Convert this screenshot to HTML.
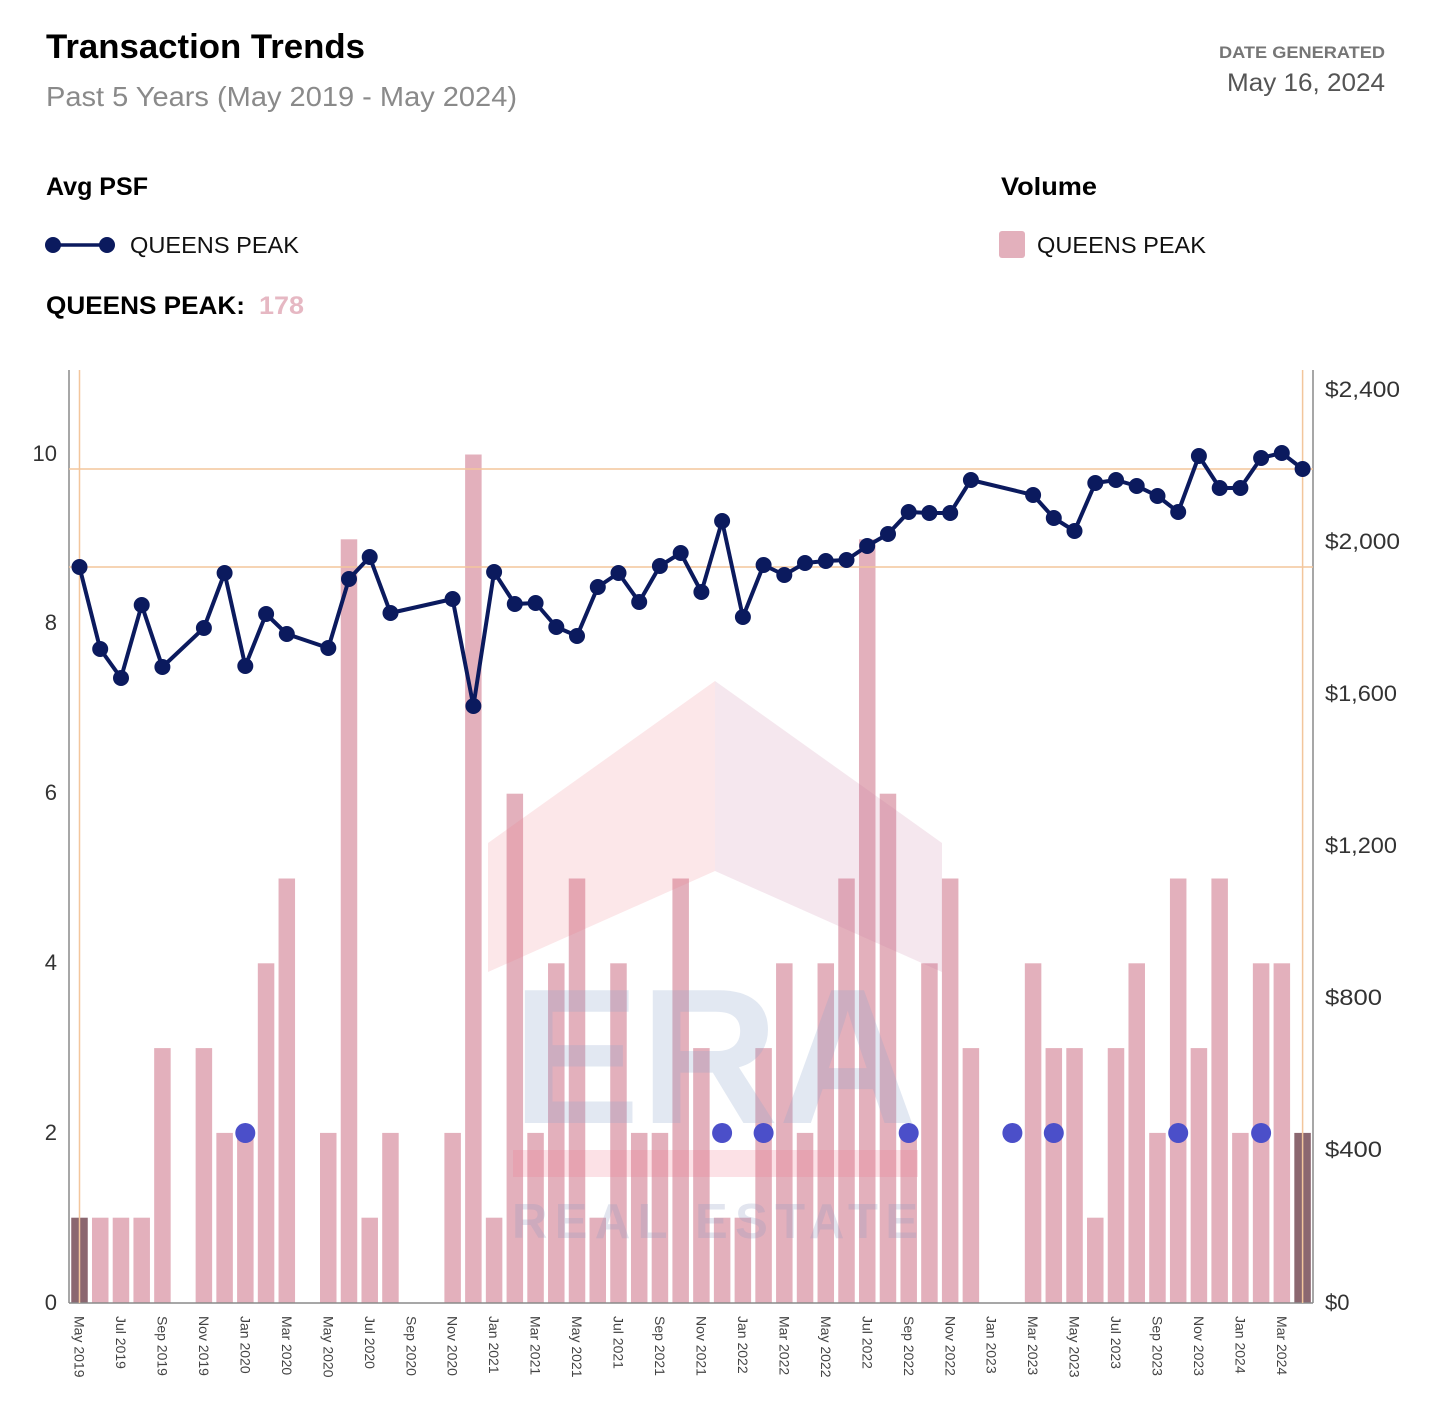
<!DOCTYPE html>
<html>
<head>
<meta charset="utf-8">
<style>
html,body{margin:0;padding:0;background:#fff;}
svg{display:block;}
text{font-family:"Liberation Sans",Arial,sans-serif;}
</style>
</head>
<body>
<svg width="1431" height="1420" viewBox="0 0 1431 1420" xmlns="http://www.w3.org/2000/svg">
<rect width="1431" height="1420" fill="#fff"/>

<!-- Header -->
<text x="46" y="58" font-size="34" font-weight="bold" fill="#000" textLength="319" lengthAdjust="spacingAndGlyphs">Transaction Trends</text>
<text x="46" y="106" font-size="28" fill="#8a8a8a" textLength="471" lengthAdjust="spacingAndGlyphs">Past 5 Years (May 2019 - May 2024)</text>
<text x="1385" y="58" font-size="16.5" font-weight="bold" fill="#767676" text-anchor="end" textLength="166" lengthAdjust="spacingAndGlyphs">DATE GENERATED</text>
<text x="1385" y="91" font-size="25" fill="#555" text-anchor="end" textLength="158" lengthAdjust="spacingAndGlyphs">May 16, 2024</text>

<!-- Legends -->
<text x="46" y="195" font-size="25" font-weight="bold" fill="#000" textLength="102" lengthAdjust="spacingAndGlyphs">Avg PSF</text>
<line x1="53" y1="245" x2="107" y2="245" stroke="#0b1a5e" stroke-width="3.5"/>
<circle cx="53" cy="245" r="8" fill="#0b1a5e"/>
<circle cx="107" cy="245" r="8" fill="#0b1a5e"/>
<text x="130" y="253" font-size="23" fill="#111" textLength="169" lengthAdjust="spacingAndGlyphs">QUEENS PEAK</text>

<text x="1001" y="195" font-size="25" font-weight="bold" fill="#000" textLength="96" lengthAdjust="spacingAndGlyphs">Volume</text>
<rect x="999" y="231" width="26" height="27" rx="3" fill="#e3b0bc"/>
<text x="1037" y="253" font-size="23" fill="#111" textLength="169" lengthAdjust="spacingAndGlyphs">QUEENS PEAK</text>

<text x="46" y="314" font-size="25" font-weight="bold" fill="#000" textLength="199" lengthAdjust="spacingAndGlyphs">QUEENS PEAK:</text>
<text x="259" y="314" font-size="25" font-weight="bold" fill="#e6b8c3" textLength="45" lengthAdjust="spacingAndGlyphs">178</text>

<!-- Bars -->
<g fill="#e3b0bc">
<rect x="71.25" y="1217.7" width="16.5" height="84.8" fill="#8b6770"/>
<rect x="91.98" y="1217.7" width="16.5" height="84.8"/>
<rect x="112.71" y="1217.7" width="16.5" height="84.8"/>
<rect x="133.44" y="1217.7" width="16.5" height="84.8"/>
<rect x="154.17" y="1048.1" width="16.5" height="254.4"/>
<rect x="195.63" y="1048.1" width="16.5" height="254.4"/>
<rect x="216.36" y="1132.9" width="16.5" height="169.6"/>
<rect x="237.09" y="1132.9" width="16.5" height="169.6"/>
<rect x="257.82" y="963.3" width="16.5" height="339.2"/>
<rect x="278.55" y="878.5" width="16.5" height="424"/>
<rect x="320.01" y="1132.9" width="16.5" height="169.6"/>
<rect x="340.74" y="539.3" width="16.5" height="763.2"/>
<rect x="361.47" y="1217.7" width="16.5" height="84.8"/>
<rect x="382.2" y="1132.9" width="16.5" height="169.6"/>
<rect x="444.39" y="1132.9" width="16.5" height="169.6"/>
<rect x="465.12" y="454.5" width="16.5" height="848"/>
<rect x="485.85" y="1217.7" width="16.5" height="84.8"/>
<rect x="506.58" y="793.7" width="16.5" height="508.8"/>
<rect x="527.31" y="1132.9" width="16.5" height="169.6"/>
<rect x="548.04" y="963.3" width="16.5" height="339.2"/>
<rect x="568.77" y="878.5" width="16.5" height="424"/>
<rect x="589.5" y="1217.7" width="16.5" height="84.8"/>
<rect x="610.23" y="963.3" width="16.5" height="339.2"/>
<rect x="630.96" y="1132.9" width="16.5" height="169.6"/>
<rect x="651.69" y="1132.9" width="16.5" height="169.6"/>
<rect x="672.42" y="878.5" width="16.5" height="424"/>
<rect x="693.15" y="1048.1" width="16.5" height="254.4"/>
<rect x="713.88" y="1217.7" width="16.5" height="84.8"/>
<rect x="734.61" y="1217.7" width="16.5" height="84.8"/>
<rect x="755.34" y="1048.1" width="16.5" height="254.4"/>
<rect x="776.07" y="963.3" width="16.5" height="339.2"/>
<rect x="796.8" y="1132.9" width="16.5" height="169.6"/>
<rect x="817.53" y="963.3" width="16.5" height="339.2"/>
<rect x="838.26" y="878.5" width="16.5" height="424"/>
<rect x="858.99" y="539.3" width="16.5" height="763.2"/>
<rect x="879.72" y="793.7" width="16.5" height="508.8"/>
<rect x="900.45" y="1132.9" width="16.5" height="169.6"/>
<rect x="921.18" y="963.3" width="16.5" height="339.2"/>
<rect x="941.91" y="878.5" width="16.5" height="424"/>
<rect x="962.64" y="1048.1" width="16.5" height="254.4"/>
<rect x="1024.83" y="963.3" width="16.5" height="339.2"/>
<rect x="1045.56" y="1048.1" width="16.5" height="254.4"/>
<rect x="1066.29" y="1048.1" width="16.5" height="254.4"/>
<rect x="1087.02" y="1217.7" width="16.5" height="84.8"/>
<rect x="1107.75" y="1048.1" width="16.5" height="254.4"/>
<rect x="1128.48" y="963.3" width="16.5" height="339.2"/>
<rect x="1149.21" y="1132.9" width="16.5" height="169.6"/>
<rect x="1169.94" y="878.5" width="16.5" height="424"/>
<rect x="1190.67" y="1048.1" width="16.5" height="254.4"/>
<rect x="1211.4" y="878.5" width="16.5" height="424"/>
<rect x="1232.13" y="1132.9" width="16.5" height="169.6"/>
<rect x="1252.86" y="963.3" width="16.5" height="339.2"/>
<rect x="1273.59" y="963.3" width="16.5" height="339.2"/>
<rect x="1294.32" y="1132.9" width="16.5" height="169.6" fill="#8b6770"/>
</g>

<!-- Watermark -->
<polygon points="488,843 715,681 715,871 488,972" fill="rgba(240,120,135,0.18)"/>
<polygon points="715,681 942,843 942,972 715,871" fill="rgba(200,120,160,0.18)"/>
<text x="512" y="1123" font-size="193" font-weight="bold" fill="rgba(140,165,205,0.25)" textLength="405" lengthAdjust="spacingAndGlyphs">ERA</text>
<rect x="513" y="1150" width="405" height="27" fill="rgba(240,120,140,0.22)"/>
<text x="512" y="1238" font-size="49" font-weight="bold" fill="rgba(140,150,190,0.25)" textLength="406" lengthAdjust="spacing">REAL ESTATE</text>

<!-- Axes -->
<line x1="69" y1="370" x2="69" y2="1303" stroke="#8a8a8a" stroke-width="1.5"/>
<line x1="1313" y1="370" x2="1313" y2="1303" stroke="#8a8a8a" stroke-width="1.5"/>
<line x1="69" y1="1303" x2="1313" y2="1303" stroke="#8a8a8a" stroke-width="1.5"/>

<!-- Orange crosshair lines -->
<g stroke="#f3c69c" stroke-width="1.5">
<line x1="79.5" y1="370" x2="79.5" y2="1303"/>
<line x1="1302.6" y1="370" x2="1302.6" y2="1303"/>
<line x1="69" y1="469" x2="1313" y2="469"/>
<line x1="69" y1="567" x2="1313" y2="567"/>
</g>

<!-- Left axis labels -->
<g font-size="22" fill="#333" text-anchor="end">
<text x="57" y="461">10</text>
<text x="57" y="630">8</text>
<text x="57" y="800">6</text>
<text x="57" y="970">4</text>
<text x="57" y="1140">2</text>
<text x="57" y="1310">0</text>
</g>

<!-- Right axis labels -->
<g font-size="22" fill="#333">
<text x="1325" y="397" textLength="75" lengthAdjust="spacingAndGlyphs">$2,400</text>
<text x="1325" y="549" textLength="75" lengthAdjust="spacingAndGlyphs">$2,000</text>
<text x="1325" y="701" textLength="72" lengthAdjust="spacingAndGlyphs">$1,600</text>
<text x="1325" y="853" textLength="72" lengthAdjust="spacingAndGlyphs">$1,200</text>
<text x="1325" y="1005" textLength="57" lengthAdjust="spacingAndGlyphs">$800</text>
<text x="1325" y="1157" textLength="57" lengthAdjust="spacingAndGlyphs">$400</text>
<text x="1325" y="1310">$0</text>
</g>

<!-- X axis labels -->
<g font-size="14" fill="#444">
<text transform="translate(79.5,1316) rotate(90)" dy="0.35em">May 2019</text>
<text transform="translate(121,1316) rotate(90)" dy="0.35em">Jul 2019</text>
<text transform="translate(162.4,1316) rotate(90)" dy="0.35em">Sep 2019</text>
<text transform="translate(203.9,1316) rotate(90)" dy="0.35em">Nov 2019</text>
<text transform="translate(245.3,1316) rotate(90)" dy="0.35em">Jan 2020</text>
<text transform="translate(286.8,1316) rotate(90)" dy="0.35em">Mar 2020</text>
<text transform="translate(328.3,1316) rotate(90)" dy="0.35em">May 2020</text>
<text transform="translate(369.7,1316) rotate(90)" dy="0.35em">Jul 2020</text>
<text transform="translate(411.2,1316) rotate(90)" dy="0.35em">Sep 2020</text>
<text transform="translate(452.6,1316) rotate(90)" dy="0.35em">Nov 2020</text>
<text transform="translate(494.1,1316) rotate(90)" dy="0.35em">Jan 2021</text>
<text transform="translate(535.6,1316) rotate(90)" dy="0.35em">Mar 2021</text>
<text transform="translate(577,1316) rotate(90)" dy="0.35em">May 2021</text>
<text transform="translate(618.5,1316) rotate(90)" dy="0.35em">Jul 2021</text>
<text transform="translate(659.9,1316) rotate(90)" dy="0.35em">Sep 2021</text>
<text transform="translate(701.4,1316) rotate(90)" dy="0.35em">Nov 2021</text>
<text transform="translate(742.9,1316) rotate(90)" dy="0.35em">Jan 2022</text>
<text transform="translate(784.3,1316) rotate(90)" dy="0.35em">Mar 2022</text>
<text transform="translate(825.8,1316) rotate(90)" dy="0.35em">May 2022</text>
<text transform="translate(867.2,1316) rotate(90)" dy="0.35em">Jul 2022</text>
<text transform="translate(908.7,1316) rotate(90)" dy="0.35em">Sep 2022</text>
<text transform="translate(950.2,1316) rotate(90)" dy="0.35em">Nov 2022</text>
<text transform="translate(991.6,1316) rotate(90)" dy="0.35em">Jan 2023</text>
<text transform="translate(1033.1,1316) rotate(90)" dy="0.35em">Mar 2023</text>
<text transform="translate(1074.5,1316) rotate(90)" dy="0.35em">May 2023</text>
<text transform="translate(1116,1316) rotate(90)" dy="0.35em">Jul 2023</text>
<text transform="translate(1157.5,1316) rotate(90)" dy="0.35em">Sep 2023</text>
<text transform="translate(1198.9,1316) rotate(90)" dy="0.35em">Nov 2023</text>
<text transform="translate(1240.4,1316) rotate(90)" dy="0.35em">Jan 2024</text>
<text transform="translate(1281.8,1316) rotate(90)" dy="0.35em">Mar 2024</text>
</g>

<!-- Avg PSF line -->
<polyline fill="none" stroke="#0b1a5e" stroke-width="4" stroke-linejoin="round" points="79.5,567 100.2,649 121,678 141.7,605 162.4,667 203.9,628 224.6,573 245.3,666 266.1,614 286.8,634 328.3,648 349,579 369.7,557 390.5,613 452.6,599 473.4,706 494.1,572 514.8,604 535.6,603 556.3,627 577,636 597.8,587 618.5,573 639.2,602 659.9,566 680.7,553 701.4,592 722.1,521 742.9,617 763.6,565 784.3,575 805,563 825.8,561 846.5,560 867.2,546 888,534 908.7,512 929.4,513 950.2,513 970.9,480 1033.1,495 1053.8,518 1074.5,531 1095.3,483 1116,480 1136.7,486 1157.5,496 1178.2,512 1198.9,456 1219.7,488 1240.4,488 1261.1,458 1281.8,453 1302.6,469"/>
<g fill="#0b1a5e">
<circle cx="79.5" cy="567" r="8"/><circle cx="100.2" cy="649" r="8"/><circle cx="121" cy="678" r="8"/><circle cx="141.7" cy="605" r="8"/><circle cx="162.4" cy="667" r="8"/><circle cx="203.9" cy="628" r="8"/><circle cx="224.6" cy="573" r="8"/><circle cx="245.3" cy="666" r="8"/><circle cx="266.1" cy="614" r="8"/><circle cx="286.8" cy="634" r="8"/><circle cx="328.3" cy="648" r="8"/><circle cx="349" cy="579" r="8"/><circle cx="369.7" cy="557" r="8"/><circle cx="390.5" cy="613" r="8"/><circle cx="452.6" cy="599" r="8"/><circle cx="473.4" cy="706" r="8"/><circle cx="494.1" cy="572" r="8"/><circle cx="514.8" cy="604" r="8"/><circle cx="535.6" cy="603" r="8"/><circle cx="556.3" cy="627" r="8"/><circle cx="577" cy="636" r="8"/><circle cx="597.8" cy="587" r="8"/><circle cx="618.5" cy="573" r="8"/><circle cx="639.2" cy="602" r="8"/><circle cx="659.9" cy="566" r="8"/><circle cx="680.7" cy="553" r="8"/><circle cx="701.4" cy="592" r="8"/><circle cx="722.1" cy="521" r="8"/><circle cx="742.9" cy="617" r="8"/><circle cx="763.6" cy="565" r="8"/><circle cx="784.3" cy="575" r="8"/><circle cx="805" cy="563" r="8"/><circle cx="825.8" cy="561" r="8"/><circle cx="846.5" cy="560" r="8"/><circle cx="867.2" cy="546" r="8"/><circle cx="888" cy="534" r="8"/><circle cx="908.7" cy="512" r="8"/><circle cx="929.4" cy="513" r="8"/><circle cx="950.2" cy="513" r="8"/><circle cx="970.9" cy="480" r="8"/><circle cx="1033.1" cy="495" r="8"/><circle cx="1053.8" cy="518" r="8"/><circle cx="1074.5" cy="531" r="8"/><circle cx="1095.3" cy="483" r="8"/><circle cx="1116" cy="480" r="8"/><circle cx="1136.7" cy="486" r="8"/><circle cx="1157.5" cy="496" r="8"/><circle cx="1178.2" cy="512" r="8"/><circle cx="1198.9" cy="456" r="8"/><circle cx="1219.7" cy="488" r="8"/><circle cx="1240.4" cy="488" r="8"/><circle cx="1261.1" cy="458" r="8"/><circle cx="1281.8" cy="453" r="8"/><circle cx="1302.6" cy="469" r="8"/>
</g>

<!-- Blue markers -->
<g fill="#4b4fc9">
<circle cx="245.3" cy="1133" r="10"/>
<circle cx="722.1" cy="1133" r="10"/>
<circle cx="763.6" cy="1133" r="10"/>
<circle cx="908.7" cy="1133" r="10"/>
<circle cx="1012.4" cy="1133" r="10"/>
<circle cx="1053.8" cy="1133" r="10"/>
<circle cx="1178.2" cy="1133" r="10"/>
<circle cx="1261.1" cy="1133" r="10"/>
</g>
</svg>
</body>
</html>
